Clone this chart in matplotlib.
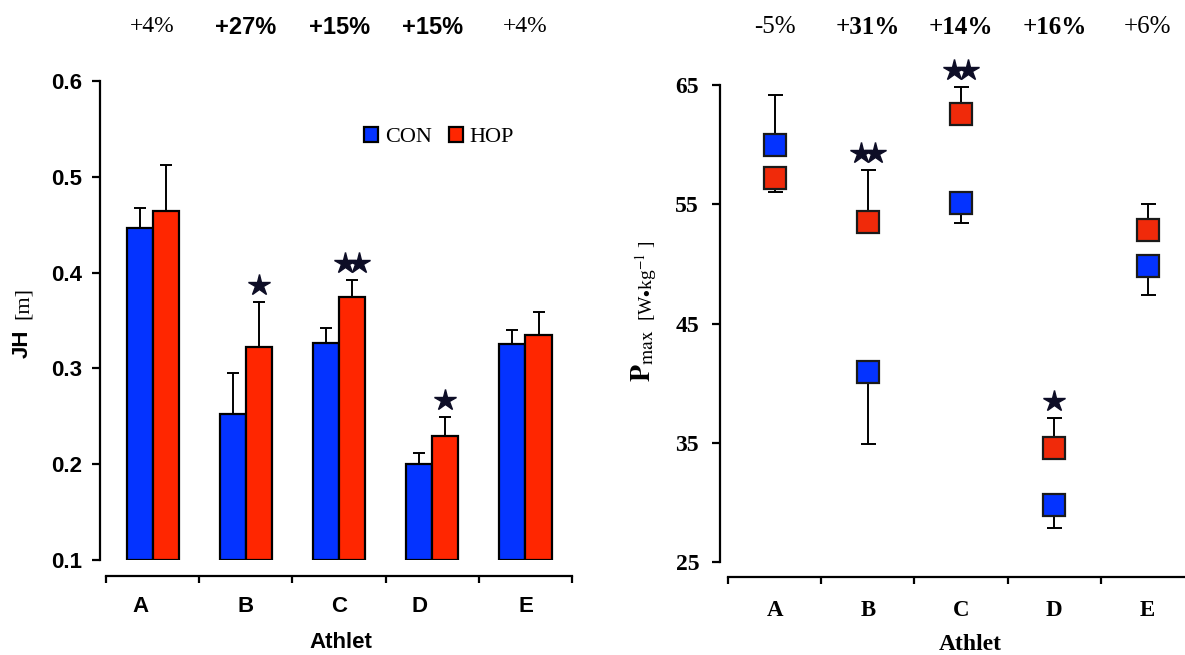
import matplotlib.pyplot as plt
import numpy as np
from matplotlib.transforms import offset_copy, blended_transform_factory

plt.rcParams['mathtext.fontset'] = 'stix'

athletes = ['A', 'B', 'C', 'D', 'E']

# jump height [m], mean and SD (error bar drawn upward only)
jh_con = [0.447, 0.252, 0.327, 0.200, 0.325]
jh_hop = [0.464, 0.322, 0.375, 0.229, 0.335]
jh_con_sd = [0.020, 0.043, 0.015, 0.012, 0.015]
jh_hop_sd = [0.048, 0.047, 0.017, 0.020, 0.024]
jh_change = ['+4%', '+27%', '+15%', '+15%', '+4%']
jh_stars = [0, 1, 2, 1, 0]

# maximal power [W/kg], mean and SD
p_con = [60.0, 40.9, 55.1, 29.8, 49.8]
p_hop = [57.2, 53.5, 62.6, 34.6, 52.8]
p_con_sd = [4.2, 6.0, 1.7, 1.95, 2.4]
p_hop_sd = [1.2, 4.4, 2.2, 2.45, 2.2]
p_con_dir = [1, -1, -1, -1, -1]   # 1 = bar drawn up, -1 = down
p_hop_dir = [-1, 1, 1, 1, 1]
p_change = ['-5%', '+31%', '+14%', '+16%', '+6%']
p_stars = [0, 2, 2, 1, 0]

BLUE = '#0433ff'
RED = '#ff2600'
STAR = '#0d0d26'
SANS = 'Liberation Sans'
SERIF = 'Liberation Serif'

W, H = 1185, 655
fig = plt.figure(figsize=(W / 100, H / 100), dpi=100)


def px(x, y):
    # pixel position (from top-left) to figure fraction
    return x / W, 1 - y / H


def draw_stars(ax, x, top, n):
    for k in range(n):
        shift = (k - (n - 1) / 2) * 14
        tr = offset_copy(ax.transData, fig=fig, x=shift, y=17, units='dots')
        ax.plot(x, top, marker='*', ms=16, color=STAR, mec=STAR,
                transform=tr, clip_on=False, zorder=5)


def style_axes(ax, xmax, tickfont):
    for s in ['top', 'right']:
        ax.spines[s].set_visible(False)
    ax.spines['left'].set_linewidth(1.6)
    ax.spines['bottom'].set_linewidth(1.6)
    ax.spines['bottom'].set_bounds(-0.5, xmax)
    ax.set_xticks(np.arange(-0.5, xmax + 0.01, 1.0))
    ax.set_xticklabels([])
    ax.tick_params(axis='x', direction='out', length=5, width=1.6)
    ax.tick_params(axis='y', direction='out', length=6, width=1.6, pad=7)
    for lab in ax.get_yticklabels():
        lab.set_fontproperties(tickfont)


x = np.arange(len(athletes))
bw = 0.28

# ---------------- left: jump height bars ----------------
ax1 = fig.add_axes([0.0844, 0.1450, 0.4023, 0.7313])
ax1.set_xlim(-0.565, 4.55)
ax1.set_ylim(0.1, 0.6)
ax1.set_yticks([0.1, 0.2, 0.3, 0.4, 0.5, 0.6])
ax1.set_yticklabels(['0.1', '0.2', '0.3', '0.4', '0.5', '0.6'])
ax1.spines['bottom'].set_position(('outward', 11.5))

b1 = ax1.bar(x - bw / 2, np.array(jh_con) - 0.1, bw, bottom=0.1, color=BLUE,
             edgecolor='black', linewidth=1.6, zorder=2)
b2 = ax1.bar(x + bw / 2, np.array(jh_hop) - 0.1, bw, bottom=0.1, color=RED,
             edgecolor='black', linewidth=1.6, zorder=2)
zero = np.zeros(len(x))
ax1.errorbar(x - bw / 2, jh_con, yerr=[zero, jh_con_sd], fmt='none', ecolor='black',
             elinewidth=1.4, capsize=4, capthick=1.4, zorder=1)
ax1.errorbar(x + bw / 2, jh_hop, yerr=[zero, jh_hop_sd], fmt='none', ecolor='black',
             elinewidth=1.4, capsize=4, capthick=1.4, zorder=1)
for i in range(len(x)):
    draw_stars(ax1, x[i] + bw / 2, jh_hop[i] + jh_hop_sd[i], jh_stars[i])

style_axes(ax1, 4.5, {'family': SANS, 'weight': 'bold', 'size': 16})

lab_shift = [-0.13, 0, 0, -0.14, 0]
tr1 = blended_transform_factory(ax1.transData, fig.transFigure)
for i, name in enumerate(athletes):
    ax1.text(x[i] + lab_shift[i], 1 - 606 / H, name, transform=tr1, ha='center',
             va='center', family=SANS, weight='bold', fontsize=16)
    if jh_stars[i]:
        ax1.text(x[i], 1 - 27 / H, jh_change[i], transform=tr1, ha='center',
                 va='center', family=SANS, weight='bold', fontsize=17)
    else:
        ax1.text(x[i], 1 - 27 / H, jh_change[i], transform=tr1, ha='center',
                 va='center', family=SERIF, fontsize=17)

fig.text(*px(341, 643), 'Athlet', ha='center', va='center', family=SANS,
         weight='bold', fontsize=16)
fig.text(*px(22, 344), 'JH', rotation=90, ha='center', va='center', family=SANS,
         weight='bold', fontsize=16)
fig.text(*px(23, 303), '[m]', rotation=90, ha='center', va='center', family=SERIF,
         fontsize=16)

ax1.legend([b1, b2], ['CON', 'HOP'], loc='center left',
           bbox_to_anchor=px(364, 137), bbox_transform=fig.transFigure,
           ncol=2, frameon=False, handlelength=0.65, handleheight=0.65,
           handletextpad=0.3, columnspacing=0.75, borderpad=0, borderaxespad=0,
           prop={'family': SERIF, 'size': 16})

# ---------------- right: maximal power markers ----------------
ax2 = fig.add_axes([0.6076, 0.1420, 0.3931, 0.7282])
ax2.set_xlim(-0.585, 4.41)
ax2.set_ylim(25, 65)
ax2.set_yticks([25, 35, 45, 55, 65])
ax2.spines['bottom'].set_position(('outward', 10.8))


def split_err(sd, direction):
    lo = [s if d < 0 else 0 for s, d in zip(sd, direction)]
    hi = [s if d > 0 else 0 for s, d in zip(sd, direction)]
    return [lo, hi]


ax2.errorbar(x, p_con, yerr=split_err(p_con_sd, p_con_dir), fmt='none',
             ecolor='black', elinewidth=1.4, capsize=5.4, capthick=1.4, zorder=1)
ax2.errorbar(x, p_hop, yerr=split_err(p_hop_sd, p_hop_dir), fmt='none',
             ecolor='black', elinewidth=1.4, capsize=5.4, capthick=1.4, zorder=1)
ax2.plot(x, p_con, 's', ms=16.5, mfc=BLUE, mec='#1a1a1a', mew=1.6, ls='none', zorder=3)
ax2.plot(x, p_hop, 's', ms=16.5, mfc='#f02a0a', mec='#1a1a1a', mew=1.6, ls='none', zorder=3)
for i in range(len(x)):
    if p_stars[i]:
        top = p_hop[i] + p_hop_sd[i] if p_hop_dir[i] > 0 else p_con[i] + p_con_sd[i]
        draw_stars(ax2, x[i], top, p_stars[i])

style_axes(ax2, 4.41, {'family': SERIF, 'weight': 'bold', 'size': 17})
ax2.tick_params(axis='y', pad=9)

tr2 = blended_transform_factory(ax2.transData, fig.transFigure)
for i, name in enumerate(athletes):
    ax2.text(x[i], 1 - 610 / H, name, transform=tr2, ha='center', va='center',
             family=SERIF, weight='bold', fontsize=16.5)
    ax2.text(x[i], 1 - 27 / H, p_change[i], transform=tr2, ha='center',
             va='center', family=SERIF, fontsize=18,
             weight='bold' if p_stars[i] else 'normal')

fig.text(*px(970, 645), 'Athlet', ha='center', va='center', family=SERIF,
         weight='bold', fontsize=17)
fig.text(*px(643, 356), r'$\mathbf{P}_{\mathrm{max}}$', rotation=90, ha='center',
         va='center', family=SERIF, fontsize=20)
fig.text(*px(646, 281), r'[W$\bullet$kg$^{\mathrm{-1}}$ ]', rotation=90, ha='center',
         va='center', family=SERIF, fontsize=14)

fig.savefig('out.png', dpi=100)
